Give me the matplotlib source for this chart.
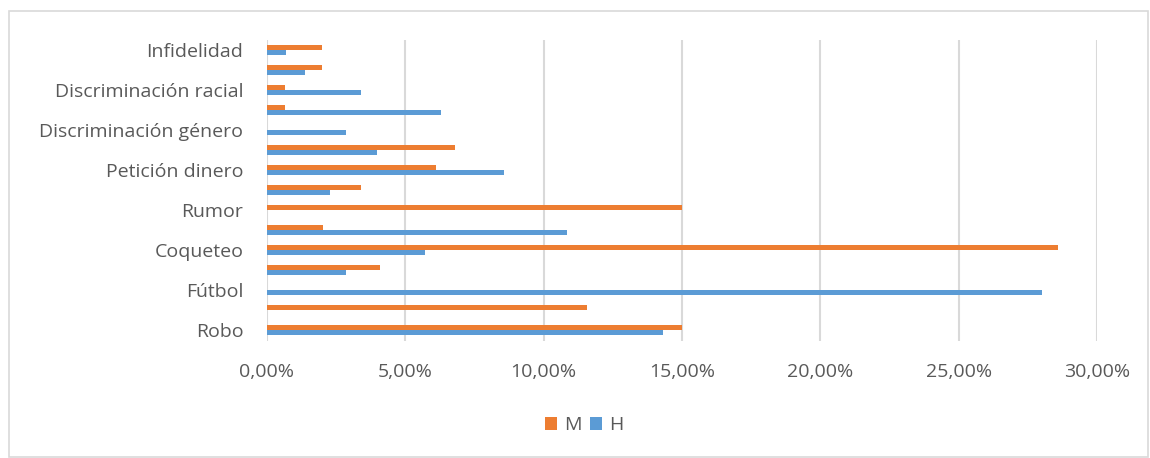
import matplotlib.pyplot as plt
from matplotlib.patches import Rectangle
from matplotlib.ticker import FuncFormatter

# categories from bottom to top (only every other one is labelled in the original)
etiquetas = ["Robo", "", "Fútbol", "", "Coqueteo", "", "Rumor", "",
             "Petición dinero", "", "Discriminación género", "",
             "Discriminación racial", "", "Infidelidad"]
mujeres = [15.0, 11.55, 0.0, 4.07, 28.6, 2.02, 15.0, 3.38,
           6.1, 6.78, 0.0, 0.66, 0.66, 2.0, 2.0]
hombres = [14.3, 0.0, 28.0, 2.84, 5.7, 10.85, 0.0, 2.28,
           8.56, 3.99, 2.85, 6.28, 3.41, 1.38, 0.7]

naranja = "#ed7d31"
azul = "#5b9bd5"
gris_txt = "#595959"

plt.rcParams["font.family"] = ["Open Sans", "DejaVu Sans"]

fig = plt.figure(figsize=(11.5, 4.58), dpi=100)
ax = fig.add_axes([267 / 1150, 1 - 340.5 / 458, 830 / 1150, 300.5 / 458])

# light frame around the chart
fig.patches.append(Rectangle((9 / 1150, 1 / 458), 1139 / 1150, 446 / 458,
                             transform=fig.transFigure, fill=False,
                             edgecolor="#d9d9d9", linewidth=1.2))

y = list(range(len(etiquetas)))
h = 0.25
ax.barh([i + h / 2 for i in y], mujeres, height=h, color=naranja, label="M")
ax.barh([i - h / 2 for i in y], hombres, height=h, color=azul, label="H")

ax.set_xlim(0, 30)
ax.set_ylim(-0.5, len(etiquetas) - 0.5)
ax.set_xticks([0, 5, 10, 15, 20, 25, 30])
ax.xaxis.set_major_formatter(FuncFormatter(lambda v, p: f"{v:.2f}%".replace(".", ",")))
ax.set_yticks(y[::2])
ax.set_yticklabels(etiquetas[::2])

ax.grid(axis="x", color="#d9d9d9", linewidth=1.5)
ax.set_axisbelow(True)
for s in ax.spines.values():
    s.set_visible(False)
ax.tick_params(length=0, labelsize=14, colors=gris_txt)
ax.tick_params(axis="x", pad=16)
ax.tick_params(axis="y", pad=17)

fig.legend(loc="center", bbox_to_anchor=(584 / 1150, 1 - 425 / 458), ncol=2,
           frameon=False, fontsize=14, handlelength=0.65, handleheight=0.65,
           handletextpad=0.35, columnspacing=0.4, labelcolor=gris_txt)

fig.savefig("out.png", dpi=100)
